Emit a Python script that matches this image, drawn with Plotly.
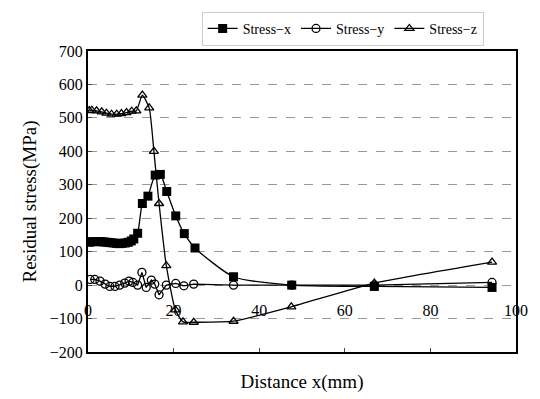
import plotly.graph_objects as go

# Stress-x (filled squares)
sx_x = [0.3, 1.0, 1.7, 2.4, 3.1, 3.8, 4.5, 5.2, 5.9, 6.6, 7.3, 8.0, 8.7, 9.4, 10.1, 10.7,
        11.6, 12.7, 14.0, 15.7, 16.9, 18.4, 20.5, 22.5, 25.0, 34.0, 47.6, 66.9, 94.4]
sx_y = [128, 130, 130, 130, 130, 129, 128, 127, 126, 125, 124, 125, 126, 128, 132, 138,
        155, 244, 266, 329, 331, 280, 207, 154, 111, 25, 0, -4, -7]

# Stress-y (open circles)
sy_x = [0.5, 1.6, 2.8, 4.0, 5.1, 6.3, 7.4, 8.6, 9.6, 10.5, 11.6, 12.6, 13.6, 14.8, 15.6,
        16.6, 18.3, 20.5, 22.4, 24.7, 34.0, 47.6, 66.9, 94.4]
sy_y = [17, 17, 12, 3, -4, -4, 0, 6, 12, 8, 0, 38, -7, 15, 3,
        -29, 0, 5, -2, 3, 0, 0, 0, 8]

# Stress-z (open triangles)
sz_x = [0.3, 0.9, 2.0, 3.2, 4.3, 5.5, 6.7, 7.8, 9.0, 10.2, 11.3, 12.7, 14.3, 15.4, 16.6,
        18.3, 20.4, 22.2, 24.7, 34.0, 47.5, 66.9, 94.4]
sz_y = [522, 523, 521, 518, 514, 511, 511, 513, 516, 520, 521, 568, 530, 400, 244,
        58, -74, -110, -111, -108, -65, 6, 69]

x_ticks = [0, 20, 40, 60, 80, 100]
y_ticks = [-200, -100, 0, 100, 200, 300, 400, 500, 600, 700]

serif = "Liberation Serif, DejaVu Serif, serif"

fig = go.Figure()
fig.add_trace(go.Scatter(
    x=sx_x, y=sx_y, name="Stress\u2212x", mode="lines+markers",
    line=dict(color="black", width=1.3, shape="spline", smoothing=0.6),
    marker=dict(symbol="square", size=9, color="black")))
fig.add_trace(go.Scatter(
    x=sy_x, y=sy_y, name="Stress\u2212y", mode="lines+markers",
    line=dict(color="black", width=1.3),
    marker=dict(symbol="circle-open", size=8, color="black", line=dict(width=1.3))))
fig.add_trace(go.Scatter(
    x=sz_x, y=sz_y, name="Stress\u2212z", mode="lines+markers",
    line=dict(color="black", width=1.3, shape="spline", smoothing=0.5),
    marker=dict(symbol="triangle-up-open", size=8, color="black", line=dict(width=1.3))))
# invisible trace to drive the secondary x axis used for tick labels
fig.add_trace(go.Scatter(x=[0, 100], y=[0, 0], xaxis="x2", mode="markers",
                         marker=dict(opacity=0), showlegend=False, hoverinfo="skip"))

fig.update_layout(
    width=540, height=399,
    margin=dict(l=88, r=21, t=43, b=44),
    paper_bgcolor="white", plot_bgcolor="white",
    font=dict(family=serif, color="black", size=16),
    legend=dict(orientation="h", x=0.595, xanchor="center", y=1.13, yanchor="top",
                font=dict(size=14, family=serif), bordercolor="#cccccc", borderwidth=1,
                itemwidth=30, tracegroupgap=0, bgcolor="rgba(0,0,0,0)"),
    xaxis=dict(range=[0, 100], tickvals=x_ticks, showticklabels=False,
               showline=True, linecolor="black", linewidth=2, mirror=True,
               showgrid=False, zeroline=False, ticks="inside", ticklen=4,
               title=dict(text="Distance x(mm)", font=dict(size=19), standoff=22)),
    xaxis2=dict(range=[0, 100], overlaying="x", anchor="free", position=0.175,
                side="bottom", tickvals=x_ticks, showline=False, showgrid=False,
                zeroline=False, ticks="", tickfont=dict(size=16)),
    yaxis=dict(range=[-200, 700], tickvals=y_ticks, showline=True, linecolor="black",
               linewidth=2, mirror=True, ticks="inside", ticklen=4,
               showgrid=True, gridcolor="#999999", griddash="dash", gridwidth=1,
               zeroline=False, tickfont=dict(size=16),
               title=dict(text="Residual stress(MPa)", font=dict(size=19), standoff=8)),
)

fig.write_html("out.html")
